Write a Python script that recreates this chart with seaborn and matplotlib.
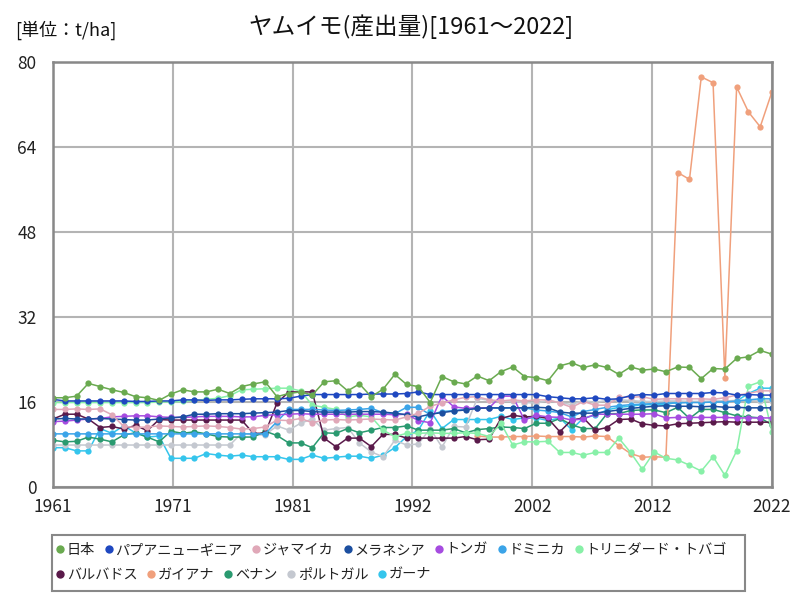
import numpy as np
import pandas as pd
import matplotlib
matplotlib.use("Agg")
import matplotlib.pyplot as plt
from matplotlib.lines import Line2D
from matplotlib.patches import Rectangle
import seaborn as sns

years = list(range(1961, 2023))

japan = [16.8, 16.8, 17.1, 19.5, 18.9, 18.3, 17.8, 17.0, 16.8, 16.3,
         17.5, 18.3, 17.9, 17.9, 18.4, 17.6, 18.9, 19.4, 19.8, 17.0,
         17.6, 17.9, 17.3, 19.8, 20.0, 18.1, 19.4, 17.0, 18.4, 21.2,
         19.3, 18.9, 15.9, 20.8, 19.8, 19.4, 20.9, 20.0, 21.7, 22.6,
         20.8, 20.6, 20.0, 22.8, 23.4, 22.5, 23.0, 22.5, 21.2, 22.6,
         22.0, 22.2, 21.7, 22.6, 22.5, 20.4, 22.3, 22.2, 24.2, 24.5,
         25.7, 25.0]
png = [16.5, 16.2, 16.2, 16.2, 16.2, 16.2, 16.2, 16.1, 16.1, 16.2,
       16.2, 16.4, 16.4, 16.3, 16.4, 16.4, 16.5, 16.6, 16.6, 16.6,
       16.7, 17.1, 17.4, 17.4, 17.4, 17.4, 17.4, 17.5, 17.5, 17.5,
       17.6, 17.9, 17.4, 17.4, 17.4, 17.4, 17.4, 17.4, 17.4, 17.4,
       17.4, 17.4, 17.0, 16.8, 16.6, 16.6, 16.8, 16.5, 16.6, 17.2,
       17.4, 17.3, 17.6, 17.6, 17.6, 17.6, 17.8, 17.7, 17.3, 17.4,
       17.3, 17.3]
jamaica = [14.6, 14.6, 14.7, 14.6, 14.7, 13.6, 11.4, 11.2, 11.3, 11.5,
           11.4, 11.3, 11.4, 11.5, 11.4, 11.2, 10.9, 11.0, 11.3, 12.6,
           12.5, 12.9, 12.1, 12.6, 12.7, 12.6, 12.7, 12.8, 12.7, 12.6,
           13.2, 13.9, 15.2, 15.8, 16.4, 16.9, 17.0, 16.4, 16.2, 16.4,
           16.2, 16.4, 16.4, 15.8, 15.0, 16.1, 15.4, 15.4, 16.9, 16.9,
           17.0, 16.5, 16.6, 16.6, 16.6, 16.6, 16.5, 16.8, 17.3, 17.6,
           18.1, 18.1]
melanesia = [12.8, 12.9, 12.8, 12.8, 12.9, 12.8, 12.7, 12.6, 12.6, 12.8,
             13.0, 13.2, 13.7, 13.7, 13.8, 13.8, 13.8, 13.9, 14.0, 14.1,
             14.4, 14.4, 14.2, 14.1, 14.1, 14.1, 14.2, 14.2, 14.1, 13.9,
             13.6, 13.2, 13.7, 14.0, 14.3, 14.5, 14.8, 14.9, 14.9, 14.9,
             14.9, 15.0, 14.9, 14.1, 13.9, 13.9, 13.9, 14.2, 14.5, 14.8,
             15.0, 15.2, 15.3, 15.2, 15.2, 15.1, 15.2, 15.0, 15.0, 14.9,
             14.9, 14.9]
tonga = [12.3, 12.4, 12.6, 12.8, 12.9, 13.2, 13.3, 13.4, 13.4, 13.2,
         13.1, 13.1, 13.2, 13.3, 13.3, 13.3, 13.2, 13.2, 13.5, 13.6,
         13.7, 13.8, 13.7, 13.7, 13.7, 13.7, 13.7, 13.7, 13.7, 13.6,
         13.7, 12.5, 12.1, 17.1, 15.1, 14.8, 14.9, 14.9, 17.1, 17.1,
         12.6, 13.5, 13.2, 13.1, 12.6, 12.8, 13.7, 13.7, 13.7, 13.7,
         13.7, 13.8, 13.0, 13.1, 13.1, 13.1, 13.1, 13.1, 13.0, 13.0,
         13.0, 13.0]
dominica = [10.0, 10.0, 10.0, 10.0, 10.0, 10.0, 10.0, 10.0, 10.0, 10.0,
            10.0, 10.0, 10.0, 10.0, 10.0, 10.0, 10.0, 10.0, 10.0, 12.3,
            14.6, 14.6, 14.6, 14.5, 14.4, 14.5, 14.6, 14.8, 14.0, 13.8,
            15.0, 15.0, 13.6, 14.2, 14.4, 14.6, 14.8, 14.9, 14.8, 14.9,
            14.9, 14.5, 14.3, 14.0, 13.2, 14.2, 14.6, 15.0, 15.3, 15.5,
            15.6, 15.7, 15.8, 15.8, 15.9, 15.9, 16.0, 16.0, 16.2, 16.4,
            16.6, 16.6]
trinidad = [15.9, 15.9, 15.9, 15.9, 15.9, 15.9, 15.9, 15.9, 15.9, 16.0,
            16.0, 16.1, 16.3, 16.5, 16.7, 17.2, 18.3, 18.4, 18.5, 18.6,
            18.6, 18.1, 15.4, 15.0, 14.6, 13.2, 13.5, 13.2, 10.7, 9.5,
            10.1, 10.1, 10.2, 10.1, 10.1, 10.2, 10.1, 9.5, 12.0, 7.9,
            8.5, 8.5, 8.6, 6.5, 6.5, 6.0, 6.5, 6.5, 9.2, 6.5,
            3.3, 6.6, 5.4, 5.1, 4.1, 3.0, 5.7, 2.2, 6.8, 19.0,
            19.8, 10.4]
barbados = [12.8, 13.7, 13.7, 12.8, 11.2, 11.4, 10.9, 11.6, 10.6, 12.7,
            12.6, 12.6, 12.6, 12.6, 12.6, 12.6, 12.6, 10.1, 10.1, 15.8,
            17.9, 17.9, 17.9, 9.2, 7.6, 9.2, 9.2, 7.6, 9.9, 9.9,
            9.2, 9.2, 9.2, 9.2, 9.2, 9.5, 8.9, 9.0, 12.9, 13.5,
            13.2, 13.3, 12.9, 10.4, 12.6, 13.0, 10.7, 11.2, 12.7, 12.8,
            11.9, 11.6, 11.5, 11.9, 12.0, 12.1, 12.2, 12.3, 12.2, 12.2,
            12.2, 12.2]
guyana = [np.nan] * 36 + [9.6, 9.4, 9.4, 9.5, 9.5, 9.6, 9.5, 9.5, 9.5, 9.4,
                          9.6, 9.5, 7.8, 6.3, 5.6, 5.7, 5.6, 59.2, 57.9, 77.2,
                          76.1, 20.6, 75.3, 70.6, 67.8, 74.4]
benin = [8.8, 8.5, 8.6, 9.4, 9.0, 8.5, 9.8, 10.2, 9.4, 8.5,
         10.5, 10.1, 10.4, 10.0, 9.5, 9.4, 9.4, 9.4, 10.5, 9.7,
         8.3, 8.3, 7.4, 10.2, 10.1, 11.0, 10.2, 10.7, 11.2, 11.2,
         11.5, 10.7, 10.7, 10.7, 11.0, 10.2, 10.8, 11.0, 11.3, 11.2,
         11.0, 12.0, 12.0, 12.9, 11.7, 11.0, 11.0, 13.8, 13.8, 14.4,
         14.5, 14.5, 14.0, 15.0, 12.9, 14.6, 14.6, 14.0, 13.4, 13.2,
         13.0, 11.7]
portugal = [7.9, 7.9, 7.9, 7.9, 7.9, 7.9, 7.9, 7.9, 7.9, 7.9,
            7.9, 7.9, 7.9, 7.9, 7.9, 7.9, 10.1, 9.8, 9.8, 11.5,
            10.7, 12.0, 12.8, 10.7, 11.0, 11.2, 8.3, 6.6, 5.7, 8.8,
            7.9, 8.1, 11.0, 7.5, 11.4, 11.3, 16.7, 16.3, 16.2, 16.1,
            15.9, 15.8, 16.3, 15.9, 15.5, 16.3, 15.9, 16.3, 16.4, 16.3,
            16.1, 16.1, 16.2, 16.2, 16.1, 16.1, 16.2, 16.2, 16.3, 16.3,
            16.2, 16.2]
ghana = [7.4, 7.4, 6.8, 6.8, 11.0, 10.1, 11.5, 10.2, 9.4, 9.6,
         5.4, 5.4, 5.4, 6.3, 6.0, 5.8, 6.0, 5.7, 5.7, 5.7,
         5.2, 5.2, 6.0, 5.4, 5.6, 5.8, 5.8, 5.4, 6.0, 7.4,
         9.5, 10.7, 14.4, 11.0, 12.7, 12.7, 12.7, 12.7, 13.3, 12.7,
         13.0, 13.0, 12.5, 13.0, 10.8, 13.0, 13.5, 14.5, 15.0, 15.2,
         15.5, 15.5, 15.5, 16.0, 16.0, 16.0, 16.0, 16.2, 16.2, 17.6,
         18.6, 18.6]

countries = ["日本", "パプアニューギニア", "ジャマイカ", "メラネシア", "トンガ", "ドミニカ",
             "トリニダード・トバゴ", "バルバドス", "ガイアナ", "ベナン", "ポルトガル", "ガーナ"]
series = [japan, png, jamaica, melanesia, tonga, dominica, trinidad, barbados,
          guyana, benin, portugal, ghana]
colors = ["#6aaa50", "#1f48c0", "#e0a8b8", "#1c4fa0", "#a64ce0", "#3ba4e8",
          "#88f0a8", "#5a1a4a", "#f0a07c", "#2a9a70", "#c4c8d0", "#35c5ec"]

xtick_labels = ["1961", "1971", "1981", "1992", "2002", "2012", "2022"]
ytick_values = [0, 16, 32, 48, 64, 80]

title = "ヤムイモ(産出量)[1961～2022]"
unit = "[単位：t/ha]"

frames = []
for name, vals in zip(countries, series):
    frames.append(pd.DataFrame({"year": years, "value": vals, "country": name}))
df = pd.concat(frames, ignore_index=True).dropna()

sns.set_theme(style="white")
plt.rcParams["font.family"] = ["Noto Sans CJK JP", "DejaVu Sans"]

fig = plt.figure(figsize=(8, 6), dpi=100)
ax = fig.add_axes([53 / 800, 1 - 487 / 600, 719 / 800, 425 / 600])

palette = dict(zip(countries, colors))
sns.lineplot(data=df, x="year", y="value", hue="country", hue_order=countries[::-1],
             palette=palette, marker="o", markersize=4.5, markeredgewidth=0,
             linewidth=1.1, legend=False, ax=ax, errorbar=None)

ax.set_xlim(1961, 2022)
ax.set_ylim(0, 80)
ax.set_xticks(np.linspace(1961, 2022, len(xtick_labels)))
ax.set_xticklabels(xtick_labels)
ax.set_yticks(ytick_values)
ax.set_xlabel("")
ax.set_ylabel("")
ax.tick_params(axis="both", length=0, labelsize=12.5, colors="#222222")
ax.tick_params(axis="y", pad=12)
ax.tick_params(axis="x", pad=8)
ax.grid(True, color="#b4b4b4", linewidth=1.5)
ax.set_axisbelow(True)
for sp in ax.spines.values():
    sp.set_color("#888888")
    sp.set_linewidth(1.8)

fig.text(411 / 800, 1 - 27 / 600, title, ha="center", va="center", fontsize=17, color="#111111")
fig.text(15 / 800, 1 - 30 / 600, unit, ha="left", va="center", fontsize=13, color="#111111")

def handles(names, cols):
    return [Line2D([], [], marker="o", linestyle="", markersize=6, markeredgewidth=0,
                   color=c, label=n) for n, c in zip(names, cols)]

leg_kw = dict(frameon=False, fontsize=10.2, handletextpad=0.2, columnspacing=0.7,
              handlelength=0.55, borderpad=0, borderaxespad=0, labelcolor="#222222")
l1 = fig.legend(handles=handles(countries[:7], colors[:7]), ncol=7, loc="center left",
                bbox_to_anchor=(56 / 800, 1 - 550 / 600), **leg_kw)
l2 = fig.legend(handles=handles(countries[7:], colors[7:]), ncol=5, loc="center left",
                bbox_to_anchor=(56 / 800, 1 - 575 / 600), **leg_kw)
fig.patches.append(Rectangle((52 / 800, 1 - 591 / 600), 693 / 800, 56 / 600,
                             transform=fig.transFigure, fill=False,
                             edgecolor="#888888", linewidth=1.5))

fig.savefig("out.png", dpi=100)
